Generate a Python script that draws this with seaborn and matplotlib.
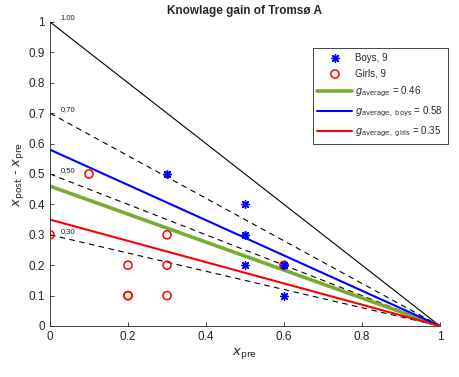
import numpy as np
import pandas as pd
import matplotlib
matplotlib.use("Agg")
import matplotlib.pyplot as plt
import seaborn as sns

# Pre-test score and gain (post - pre) for each pupil
boys_pre = [0.3, 0.3, 0.5, 0.5, 0.5, 0.5, 0.6, 0.6, 0.6]
boys_gain = [0.5, 0.5, 0.4, 0.3, 0.3, 0.2, 0.2, 0.2, 0.1]
girls_pre = [0.0, 0.1, 0.2, 0.2, 0.2, 0.3, 0.3, 0.3, 0.6]
girls_gain = [0.3, 0.5, 0.2, 0.1, 0.1, 0.3, 0.2, 0.1, 0.2]

# Normalised gain levels
g_average = 0.46
g_boys = 0.58
g_girls = 0.35
ref_levels = [0.70, 0.50, 0.30]
ref_labels = ["0,70", "0,50", "0,30"]
max_level = 1.00
max_label = "1.00"

sns.set_theme(style="ticks")
plt.rcParams["font.family"] = ["Liberation Sans", "DejaVu Sans"]

fig = plt.figure(figsize=(4.6, 3.77), dpi=100)
ax = fig.add_axes([50 / 460, 51 / 377, 390 / 460, 304 / 377])

xs = np.linspace(0, 1, 101)

def gain_line(g):
    return pd.DataFrame({"x": xs, "y": g * (1 - xs)})

# Maximum gain line and constant-g reference lines
sns.lineplot(data=gain_line(max_level), x="x", y="y", ax=ax, color="black", lw=0.8)
ax.text(0.028, max_level, max_label, fontsize=5.5, va="bottom", ha="left", color="#222222")
for lvl, lab in zip(ref_levels, ref_labels):
    sns.lineplot(data=gain_line(lvl), x="x", y="y", ax=ax, color="black", lw=0.8,
                 linestyle=(0, (5, 4)))
    ax.text(0.028, lvl, lab, fontsize=5.5, va="bottom", ha="left", color="#222222")

boys = pd.DataFrame({"x": boys_pre, "y": boys_gain})
girls = pd.DataFrame({"x": girls_pre, "y": girls_gain})

sns.scatterplot(data=boys, x="x", y="y", ax=ax, marker=(8, 2, 0), s=30, color="blue",
                edgecolor="blue", linewidth=1.0, label="Boys, 9", zorder=5)
sns.scatterplot(data=girls, x="x", y="y", ax=ax, marker="o", s=34, facecolor="none",
                edgecolor="red", linewidth=1.1, label="Girls, 9", zorder=4)

sns.lineplot(data=gain_line(g_average), x="x", y="y", ax=ax, color="#77AC30", lw=2.6,
             label=r"$g_{\mathrm{average}}$ = %.2f" % g_average)
sns.lineplot(data=gain_line(g_boys), x="x", y="y", ax=ax, color="blue", lw=1.5,
             label=r"$g_{\mathrm{average,\ boys}}$ = %.2f" % g_boys)
sns.lineplot(data=gain_line(g_girls), x="x", y="y", ax=ax, color="red", lw=1.5,
             label=r"$g_{\mathrm{average,\ girls}}$ = %.2f" % g_girls)

ax.set_xlim(0, 1)
ax.set_ylim(0, 1)
ax.set_xticks(np.arange(0, 1.01, 0.2))
ax.set_xticklabels(["0", "0.2", "0.4", "0.6", "0.8", "1"])
ax.set_yticks(np.arange(0, 1.01, 0.1))
ax.set_yticklabels(["0", "0.1", "0.2", "0.3", "0.4", "0.5", "0.6", "0.7", "0.8", "0.9", "1"])
ax.tick_params(direction="in", length=3, width=0.6, labelsize=8.5, colors="#262626")
for s in ["top", "right"]:
    ax.spines[s].set_visible(False)
for s in ["left", "bottom"]:
    ax.spines[s].set_linewidth(0.6)
    ax.spines[s].set_color("#262626")

ax.set_xlabel(r"$x_{\mathrm{pre}}$", fontsize=9.5, labelpad=2)
ax.set_ylabel(r"$x_{\mathrm{post}}$ - $x_{\mathrm{pre}}$", fontsize=9.5, labelpad=2)
ax.set_title("Knowlage gain of Tromsø A", fontsize=8.5, fontweight="bold", pad=6)

leg = ax.legend(loc="upper right", bbox_to_anchor=(453 / 460, 1 - 43 / 377),
                bbox_transform=fig.transFigure, fontsize=7, frameon=True,
                fancybox=False, edgecolor="#262626", framealpha=1,
                handlelength=3.6, handletextpad=0.3, borderpad=0.5, labelspacing=0.6)
leg.get_frame().set_linewidth(0.6)

fig.savefig("out.png", dpi=100)
